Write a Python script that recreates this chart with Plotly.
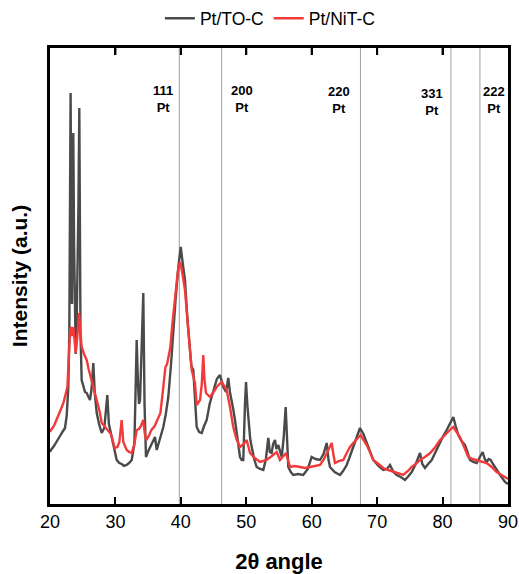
import plotly.graph_objects as go

# Pt/TO-C (dark) series: 2theta, intensity (a.u.)
to_x = [20.0, 20.15, 20.6, 21.02, 21.3, 21.53, 21.9, 22.29, 22.55, 22.80, 22.95, 23.06, 23.15, 23.28,
        23.36, 23.47, 23.56, 23.68, 23.82, 23.93, 24.05, 24.2, 24.35, 24.48, 24.58, 24.66, 24.84,
        25.1, 25.35, 25.61, 25.9, 26.11, 26.35, 26.62, 26.85, 27.14, 27.5, 27.90, 28.3, 28.76,
        29.0, 29.43, 29.8, 30.19, 30.6, 30.96, 31.3, 31.72, 32.1, 32.49, 32.9, 33.1, 33.25, 33.45,
        33.6, 33.76, 34.0, 34.26, 34.45, 34.67, 34.95, 35.28, 35.6, 36.05, 36.31, 36.7, 37.0,
        37.32, 37.7, 38.08, 38.5, 38.84, 39.2, 39.61, 39.85, 39.98, 40.2, 40.63, 41.0, 41.40,
        41.6, 41.90, 42.15, 42.42, 42.8, 43.19, 43.55, 43.95, 44.4, 44.96, 45.5, 45.98, 46.2,
        46.49, 46.9, 47.25, 47.5, 47.77, 48.0, 48.27, 48.53, 48.8, 49.04, 49.3, 49.54, 49.8,
        49.96, 50.15, 50.31, 50.6, 50.83, 51.2, 51.59, 52.1, 52.60, 53.0, 53.36, 53.6, 53.88,
        54.1, 54.39, 54.6, 54.89, 55.15, 55.41, 55.7, 56.02, 56.2, 56.42, 56.8, 57.18, 57.9,
        58.71, 59.4, 59.99, 60.6, 61.27, 61.8, 62.29, 62.55, 62.79, 63.5, 64.32, 64.8, 65.35,
        65.8, 66.35, 66.9, 67.38, 67.9, 68.40, 68.9, 69.41, 70.2, 70.94, 71.5, 71.96, 72.5,
        72.99, 73.6, 74.26, 74.8, 75.28, 75.9, 76.3, 76.55, 76.9, 77.31, 77.8, 78.34, 79.0,
        79.61, 80.1, 80.63, 81.1, 81.45, 81.64, 82.0, 82.40, 82.9, 83.43, 83.8, 84.19, 84.7,
        85.21, 85.7, 86.13, 86.45, 86.74, 87.05, 87.35, 87.8, 88.27, 88.9, 89.54, 90.0]
to_y = [52, 54, 58, 62, 66, 68, 72, 76, 88, 117, 170, 290, 411, 240,
        200, 300, 371, 260, 180, 150, 170, 230, 300, 396, 250, 170, 124,
        118, 112, 111, 106, 104, 115, 141, 110, 91, 80, 71, 76, 109,
        80, 67, 55, 44, 41, 40, 38, 39, 41, 44, 60, 120, 164, 120,
        100, 104, 150, 211, 100, 47, 52, 57, 62, 67, 54, 62, 70,
        77, 90, 107, 140, 174, 205, 237, 255, 257, 245, 224, 185, 147,
        138, 134, 110, 77, 72, 71, 78, 84, 100, 114, 125, 129, 124,
        117, 112, 126, 112, 104, 95, 84, 71, 55, 47, 44, 44, 100,
        122, 100, 84, 65, 57, 45, 37, 35, 34, 45, 66, 52, 51,
        60, 64, 55, 59, 52, 47, 65, 97, 70, 37, 32, 29, 30,
        29, 35, 47, 45, 44, 50, 61, 45, 37, 32, 29, 33, 39,
        47, 57, 68, 76, 70, 61, 52, 44, 38, 34, 35, 39, 32,
        29, 27, 24, 28, 32, 40, 48, 51, 40, 36, 40, 44, 53,
        62, 68, 74, 80, 86, 87, 78, 69, 63, 59, 52, 44, 42,
        41, 47, 52, 45, 42, 45, 44, 39, 34, 28, 22, 20]

# Pt/NiT-C (red) series
nit_x = [20.0, 20.15, 20.6, 21.02, 21.5, 22.05, 22.4, 22.66, 22.95, 23.1, 23.25, 23.4, 23.56, 23.75,
         23.93, 24.15, 24.35, 24.45, 24.6, 24.84, 25.2, 25.61, 25.9, 26.37, 26.8, 27.14, 27.6,
         27.90, 28.3, 28.86, 29.3, 29.65, 29.9, 30.3, 30.6, 30.95, 31.2, 31.72, 32.1, 32.49,
         32.9, 33.25, 33.6, 33.9, 34.26, 34.5, 34.72, 35.1, 35.5, 36.0, 36.4, 36.88, 37.2,
         37.64, 37.9, 38.4, 38.7, 39.1, 39.5, 39.75, 39.9, 40.2, 40.63, 41.0, 41.4, 41.66,
         42.16, 42.42, 42.93, 43.2, 43.43, 43.6, 43.84, 44.45, 45.0, 45.48, 46.24, 47.0, 47.51,
         48.01, 48.5, 49.04, 49.6, 50.06, 50.57, 51.3, 52.1, 53.12, 53.9, 54.65, 55.15, 55.6,
         56.07, 56.68, 57.4, 58.21, 59.0, 59.74, 60.5, 61.27, 61.8, 62.29, 62.75, 63.05, 63.3,
         63.56, 64.2, 64.83, 65.35, 65.85, 66.35, 66.9, 67.49, 67.9, 68.40, 68.9, 69.41, 70.2,
         70.94, 71.7, 72.5, 73.3, 74.0, 74.7, 75.28, 75.9, 76.55, 77.3, 78.1, 78.9, 79.61,
         80.1, 80.63, 81.1, 81.64, 82.1, 82.66, 83.3, 83.94, 84.6, 85.21, 86.0, 86.74, 87.5,
         88.27, 89.0, 89.8, 90.0]
nit_y = [72, 74, 78, 84, 92, 101, 110, 117, 157, 175, 177, 168, 177, 160,
         151, 165, 185, 191, 175, 157, 150, 144, 135, 124, 112, 104, 92,
         81, 78, 74, 70, 62, 56, 57, 62, 84, 62, 54, 52, 51,
         60, 74, 75, 78, 84, 70, 64, 68, 74, 78, 84, 91, 110,
         137, 140, 157, 180, 207, 230, 240, 242, 232, 214, 185, 154, 134,
         121, 99, 104, 120, 149, 125, 111, 107, 112, 117, 122, 114, 97,
         77, 65, 57, 60, 64, 51, 46, 42, 44, 48, 52, 44, 47,
         51, 37, 38, 37, 36, 37, 38, 39, 44, 51, 56, 61, 50,
         41, 43, 44, 51, 57, 61, 65, 69, 64, 59, 52, 44, 40,
         36, 34, 32, 30, 29, 33, 37, 40, 44, 47, 51, 57, 64,
         67, 71, 74, 77, 72, 67, 57, 47, 45, 44, 42, 41, 37,
         32, 29, 26, 25]

# Pt reflections: positions and labels
ref_pos = [39.76, 46.24, 67.45, 81.28, 85.71]
ref_labels = ["111", "200", "220", "331", "222"]
label_x = [37.27, 49.34, 64.17, 78.38, 87.86]
label_y = [0.889, 0.889, 0.886, 0.882, 0.887]

x_ticks = [20, 30, 40, 50, 60, 70, 80, 90]

FONT = "Liberation Sans, Arial, sans-serif"
TICK_LEN = 7
PLOT_H = 574 - 48 - 70

fig = go.Figure()
fig.add_trace(go.Scatter(x=to_x, y=to_y, mode="lines", name="Pt/TO-C",
                         line=dict(color="#4a4a4a", width=2.4)))
fig.add_trace(go.Scatter(x=nit_x, y=nit_y, mode="lines", name="Pt/NiT-C",
                         line=dict(color="#f23a3a", width=2.4)))

for p in ref_pos:
    fig.add_shape(type="line", x0=p, x1=p, y0=0, y1=1, xref="x", yref="paper",
                  line=dict(color="#a0a0a0", width=1), layer="below")

# mirrored inside ticks along the top frame, at the same tick values as the x axis
for t in x_ticks[1:-1]:
    fig.add_shape(type="line", x0=t, x1=t, y0=1, y1=1 - TICK_LEN / PLOT_H,
                  xref="x", yref="paper", line=dict(color="black", width=2), layer="above")

for lx, ly, lab in zip(label_x, label_y, ref_labels):
    fig.add_annotation(x=lx, y=ly, xref="x", yref="paper", text="<b>%s<br>Pt</b>" % lab,
                       showarrow=False, font=dict(family=FONT, size=13, color="black"),
                       align="center", yanchor="middle")

fig.update_layout(
    width=519, height=574,
    margin=dict(l=50, r=11, t=48, b=70, autoexpand=False),
    paper_bgcolor="white", plot_bgcolor="white",
    font=dict(family=FONT, color="black"),
    showlegend=True,
    legend=dict(orientation="h", x=0.52, xanchor="center", xref="container",
                y=0.968, yanchor="middle", yref="container",
                font=dict(family=FONT, size=17.5), bgcolor="rgba(0,0,0,0)",
                tracegroupgap=0),
    xaxis=dict(range=[20, 90], tickvals=x_ticks, ticks="inside", ticklen=TICK_LEN, tickwidth=2,
               tickcolor="black", showline=True, linecolor="black", linewidth=2.5,
               mirror="allticks", showgrid=False, zeroline=False, automargin=False,
               tickfont=dict(family=FONT, size=18),
               title=dict(text="<b>2θ angle</b>", font=dict(family=FONT, size=22), standoff=24)),
    yaxis=dict(range=[0, 456], showticklabels=False, ticks="", showline=True,
               linecolor="black", linewidth=2.5, mirror=True, showgrid=False, zeroline=False,
               automargin=False,
               title=dict(text="<b>Intensity (a.u.)</b>", font=dict(family=FONT, size=21),
                          standoff=14)),
)

fig.write_html("out.html", config={"displayModeBar": False},
               post_script="document.body.style.margin='0';document.body.style.overflow='hidden';")
